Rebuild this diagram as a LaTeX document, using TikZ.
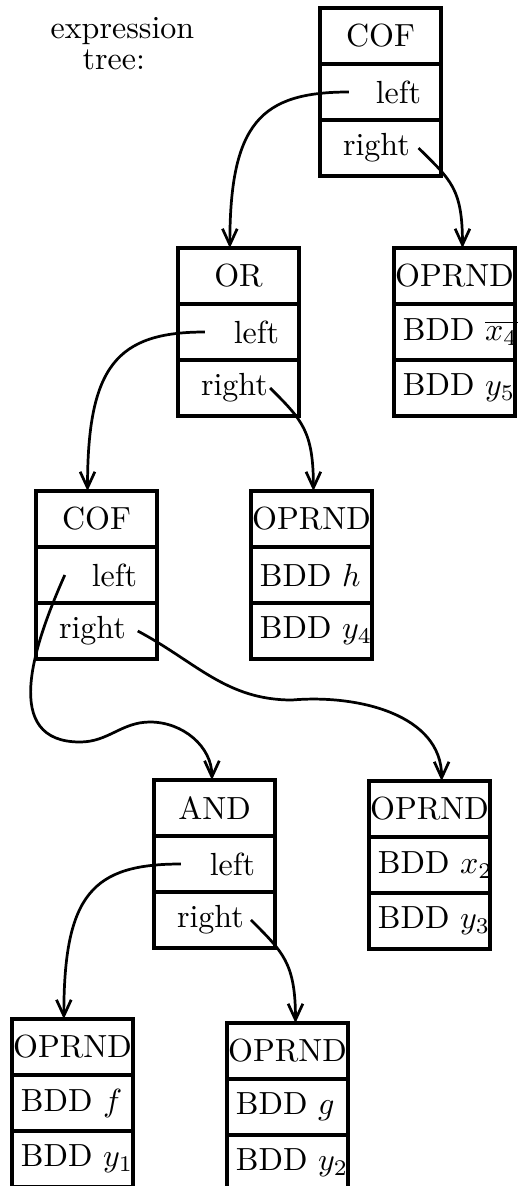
\documentclass[tikz,border=0pt]{standalone}
\usepackage{amsmath}
\usetikzlibrary{positioning,arrows.meta}

\tikzset{
  cell/.style={draw, line width=1pt, minimum width=37.8pt, minimum height=17.5pt, outer sep=0pt},
  head/.style={cell, inner sep=0pt, align=center},
  lcell/.style={cell, inner xsep=6.2pt, inner ysep=0pt, text width=25.4pt, align=right},
  rcell/.style={cell, inner xsep=7.2pt, inner ysep=0pt, text width=23.4pt, align=left},
  bcell/.style={cell, inner xsep=2.8pt, inner ysep=0pt, text width=32.2pt, align=left},
  link/.style={line width=0.85pt, -{Straight Barb[length=5pt,width=4.6pt]}},
}

\begin{document}
\begin{tikzpicture}[x=0.3125pt, y=0.3125pt]
    \useasboundingbox (0,0) rectangle (524,-1186);

    \node[align=left, inner sep=0pt, anchor=north west] (title) at (50,-17) {expression\\[-2.4pt]\hspace*{1em}tree:};

    % operator nodes
    \foreach \n/\x/\y/\t in {cofA/320/8/COF, orB/178/248/OR, cofC/36/491/COF, andD/154/780/AND} {
        \node[head, anchor=north west] (\n) at (\x,-\y) {\t};
        \node[lcell, below=0pt of \n] (\n-l) {left};
        \node[rcell, below=0pt of \n-l] (\n-r) {right};
    }

    % operand nodes
    \foreach \n/\x/\y/\p/\q in {opx4/394/248/{$\overline{x_4}$}/{$y_5$}, oph/251/491/{$h$}/{$y_4$},
                              opx2/369/781/{$x_2$}/{$y_3$}, opf/12/1019/{$f$}/{$y_1$}, opg/227/1023/{$g$}/{$y_2$}} {
        \node[head, anchor=north west] (\n) at (\x,-\y) {OPRND};
        \node[bcell, below=0pt of \n] (\n-a) {BDD~\p};
        \node[bcell, below=0pt of \n-a] (\n-b) {BDD~\q};
    }

    \draw[link] ([xshift=9pt]cofA-l.west) .. controls +(-88,0) and +(0,125) .. ([xshift=-2.7pt]orB.north);
    \draw[link] ([xshift=-7pt]cofA-r.east) .. controls +(32,-32) and +(0,60) .. ([xshift=2.5pt]opx4.north);

    \draw[link] ([xshift=8.4pt]orB-l.west) .. controls +(-88,0) and +(0,125) .. ([xshift=-2.8pt]cofC.north);
    \draw[link] ([xshift=-9pt]orB-r.east) .. controls +(32,-32) and +(0,60) .. ([xshift=0.6pt]oph.north);

    % wavy links below the second COF
    \draw[link] ([xshift=9pt]cofC-l.west) to[out=-114,in=180,looseness=1.2] (80,-742)
        to[out=0,in=180] (150,-722) to[out=0,in=90] ([xshift=-0.8pt]andD.north);
    \draw[link] ([xshift=-6pt]cofC-r.east) to[out=-28,in=180] (292,-700)
        to[out=5,in=90] ([xshift=3.8pt]opx2.north);

    \draw[link] ([xshift=8.4pt]andD-l.west) .. controls +(-88,0) and +(0,125) .. ([xshift=-2.7pt]opf.north);
    \draw[link] ([xshift=-7.5pt]andD-r.east) .. controls +(32,-32) and +(0,60) .. ([xshift=2.5pt]opg.north);
\end{tikzpicture}
\end{document}
